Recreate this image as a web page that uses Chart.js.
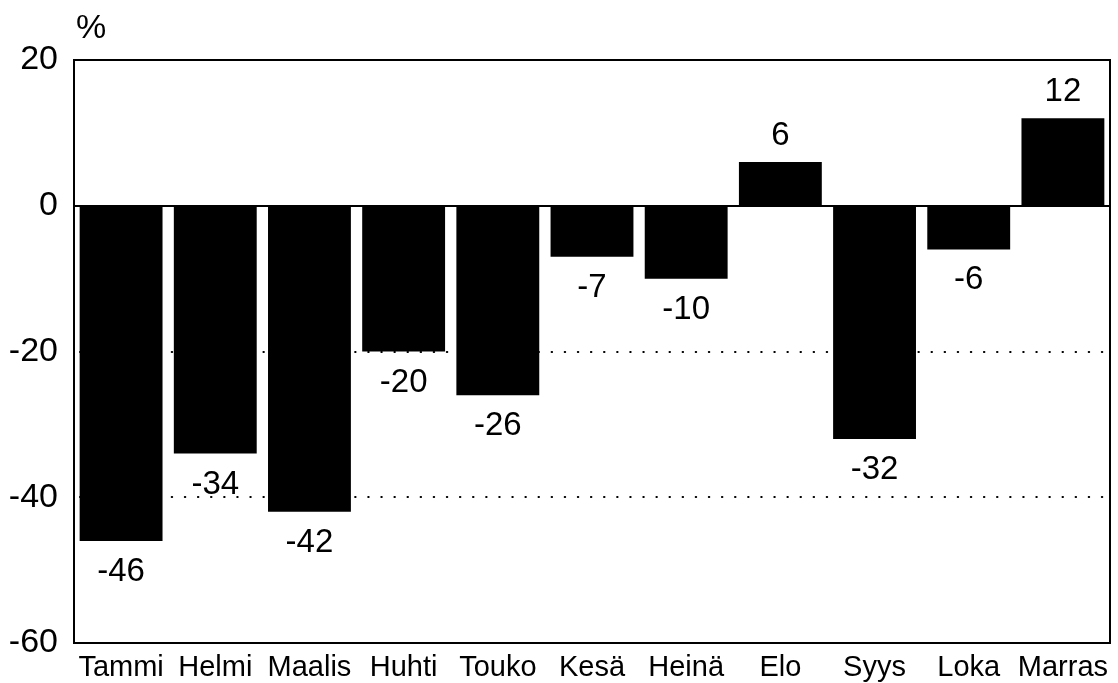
<!DOCTYPE html>
<html>
<head>
<meta charset="utf-8">
<script src="https://cdn.jsdelivr.net/npm/chart.js@4.4.1/dist/chart.umd.min.js"></script>
<style>
  html, body { margin: 0; padding: 0; background: #fff; }
  #wrap { width: 1118px; height: 683px; }
</style>
</head>
<body>
<div id="wrap"><canvas id="c" width="1118" height="683"></canvas></div>
<script>
const categories = ["Tammi", "Helmi", "Maalis", "Huhti", "Touko", "Kesä", "Heinä", "Elo", "Syys", "Loka", "Marras"];
const values = [-46, -34, -42, -20, -26, -7, -10, 6, -32, -6, 12];
const yTicks = [20, 0, -20, -40, -60];
const unitLabel = "%";

const FONT = "'Liberation Sans', Arial, Helvetica, sans-serif";

const framePlugin = {
  id: 'frame',
  beforeDatasetsDraw(chart) {
    const { ctx, chartArea: a, scales: { y } } = chart;
    ctx.save();
    ctx.strokeStyle = '#000';
    ctx.lineWidth = 2;
    ctx.lineCap = 'round';
    ctx.setLineDash([0.5, 12.6]);
    [-20, -40].forEach(v => {
      const py = Math.round(y.getPixelForValue(v));
      ctx.beginPath();
      ctx.moveTo(a.left + 6, py);
      ctx.lineTo(a.right, py);
      ctx.stroke();
    });
    ctx.restore();
  },
  afterDatasetsDraw(chart) {
    const { ctx, chartArea: a, scales: { y } } = chart;
    ctx.save();
    ctx.strokeStyle = '#000';
    ctx.lineWidth = 2;
    ctx.strokeRect(a.left, a.top, a.right - a.left, a.bottom - a.top);
    const zy = Math.round(y.getPixelForValue(0));
    ctx.beginPath();
    ctx.moveTo(a.left, zy);
    ctx.lineTo(a.right, zy);
    ctx.stroke();
    // value labels
    ctx.fillStyle = '#000';
    ctx.font = '33px ' + FONT;
    ctx.textAlign = 'center';
    ctx.textBaseline = 'alphabetic';
    const meta = chart.getDatasetMeta(0);
    meta.data.forEach((bar, i) => {
      const v = chart.data.datasets[0].data[i];
      const ty = v < 0 ? bar.y + 40 : bar.y - 17;
      ctx.fillText(String(v), bar.x, ty);
    });
    // unit label
    ctx.font = '34px ' + FONT;
    ctx.textAlign = 'left';
    ctx.fillText(unitLabel, 76, 38);
    ctx.restore();
  }
};

new Chart(document.getElementById('c'), {
  type: 'bar',
  data: {
    labels: categories,
    datasets: [{
      data: values,
      backgroundColor: '#000',
      borderWidth: 0,
      barPercentage: 0.88,
      categoryPercentage: 1.0
    }]
  },
  options: {
    responsive: false,
    animation: false,
    devicePixelRatio: 1,
    layout: { padding: { top: 60, right: 8, left: 0, bottom: 0 } },
    plugins: { legend: { display: false }, tooltip: { enabled: false } },
    scales: {
      x: {
        grid: { display: false },
        border: { display: false },
        ticks: {
          color: '#000',
          font: { family: FONT, size: 29 },
          padding: 0,
          maxRotation: 0,
          autoSkip: false
        },
        afterFit(s) { s.height = 40; }
      },
      y: {
        min: -60,
        max: 20,
        grid: { display: false },
        border: { display: false },
        afterBuildTicks(s) { s.ticks = yTicks.map(v => ({ value: v })); },
        ticks: {
          color: '#000',
          font: { family: FONT, size: 34 },
          padding: 8
        },
        afterFit(s) { s.width = 74; }
      }
    }
  },
  plugins: [framePlugin]
});
</script>
</body>
</html>
